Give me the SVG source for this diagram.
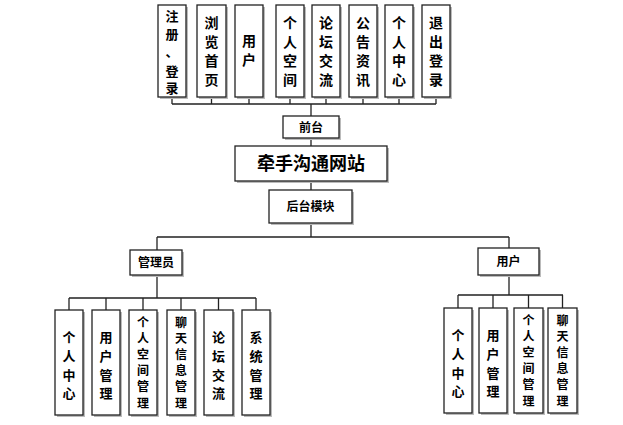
<svg xmlns="http://www.w3.org/2000/svg" width="623" height="425" viewBox="0 0 623 425">
<defs><style>
.b{fill:#fff;stroke:#222;stroke-width:1.3}
.s{fill:#bbb}
.t{font-family:"Noto Sans CJK SC","Liberation Sans",sans-serif;font-weight:bold;fill:#000;text-anchor:middle}
.l{stroke:#222;stroke-width:1.3;fill:none}
.sm{font-size:12px}
</style></defs>
<rect width="623" height="425" fill="#fff"/>
<g id="connectors">
<path class="l" d="M172 97V104M211.5 97V104M249 97V104M290 97V104M326 97V104M363 97V104M399 97V104M436 97V104M172 104H436M311 104V116M311 138V146M311 181V190M311 223V237M157 237H509M157 237V250M509 237V250"/>
<path class="l" d="M157 274V298M69 298H256M69 298V310M106 298V310M143 298V310M181 298V310M218.5 298V310M256 298V310"/>
<path class="l" d="M509 275V295M458 295H563M458 295V308M493 295V308M528.5 295V308M562.5 295V308"/>
</g>
<g class="t" font-size="14">
<g id="n1" font-size="13"><rect class="s" x="160" y="7" width="28" height="92"/><rect class="b" x="158" y="5" width="28" height="92"/><text x="172" y="21">注</text><text x="172" y="39">册</text><text x="172" y="56">、</text><text x="172" y="76">登</text><text x="172" y="93">录</text></g>
<g id="n2"><rect class="s" x="199" y="7" width="29" height="92"/><rect class="b" x="197" y="5" width="29" height="92"/><text x="211.5" y="28">浏</text><text x="211.5" y="47">览</text><text x="211.5" y="66">首</text><text x="211.5" y="85">页</text></g>
<g id="n3"><rect class="s" x="237" y="7" width="28" height="92"/><rect class="b" x="235" y="5" width="28" height="92"/><text x="249" y="46">用</text><text x="249" y="65">户</text></g>
<g id="n4"><rect class="s" x="278" y="7" width="28" height="92"/><rect class="b" x="276" y="5" width="28" height="92"/><text x="290" y="28">个</text><text x="290" y="47">人</text><text x="290" y="66">空</text><text x="290" y="85">间</text></g>
<g id="n5"><rect class="s" x="314" y="7" width="28" height="92"/><rect class="b" x="312" y="5" width="28" height="92"/><text x="326" y="28">论</text><text x="326" y="47">坛</text><text x="326" y="66">交</text><text x="326" y="85">流</text></g>
<g id="n6"><rect class="s" x="351" y="7" width="28" height="92"/><rect class="b" x="349" y="5" width="28" height="92"/><text x="363" y="28">公</text><text x="363" y="47">告</text><text x="363" y="66">资</text><text x="363" y="85">讯</text></g>
<g id="n7"><rect class="s" x="387" y="7" width="28" height="92"/><rect class="b" x="385" y="5" width="28" height="92"/><text x="399" y="28">个</text><text x="399" y="47">人</text><text x="399" y="66">中</text><text x="399" y="85">心</text></g>
<g id="n8"><rect class="s" x="424" y="7" width="28" height="92"/><rect class="b" x="422" y="5" width="28" height="92"/><text x="436" y="28">退</text><text x="436" y="47">出</text><text x="436" y="66">登</text><text x="436" y="85">录</text></g>
</g>
<g id="qiantai"><rect class="s" x="285" y="118" width="56" height="22"/><rect class="b" x="283" y="116" width="56" height="22"/><text class="t" x="311" y="132" font-size="12">前台</text></g>
<g id="main"><rect class="s" x="237" y="148" width="152" height="35"/><rect class="b" x="235" y="146" width="152" height="35"/><text class="t" x="311" y="170" font-size="18">牵手沟通网站</text></g>
<g id="houtai"><rect class="s" x="271" y="192" width="83" height="33"/><rect class="b" x="269" y="190" width="83" height="33"/><text class="t" x="310.5" y="211" font-size="12">后台模块</text></g>
<g id="admin"><rect class="s" x="132" y="252" width="52" height="25"/><rect class="b" x="130" y="250" width="52" height="25"/><text class="t" x="156" y="267" font-size="12">管理员</text></g>
<g id="user"><rect class="s" x="480" y="250" width="61" height="27"/><rect class="b" x="478" y="248" width="61" height="27"/><text class="t" x="508.5" y="266" font-size="12">用户</text></g>
<g class="t" font-size="13">
<g id="a1"><rect class="s" x="57" y="312" width="28" height="105"/><rect class="b" x="55" y="310" width="28" height="105"/><text x="69" y="342">个</text><text x="69" y="361">人</text><text x="69" y="380">中</text><text x="69" y="398">心</text></g>
<g id="a2"><rect class="s" x="94" y="312" width="28" height="105"/><rect class="b" x="92" y="310" width="28" height="105"/><text x="106" y="342">用</text><text x="106" y="361">户</text><text x="106" y="380">管</text><text x="106" y="398">理</text></g>
<g id="a3" class="sm"><rect class="s" x="131" y="312" width="28" height="105"/><rect class="b" x="129" y="310" width="28" height="105"/><text x="143" y="327">个</text><text x="143" y="343">人</text><text x="143" y="359">空</text><text x="143" y="375">间</text><text x="143" y="391">管</text><text x="143" y="408">理</text></g>
<g id="a4" class="sm"><rect class="s" x="169" y="312" width="28" height="105"/><rect class="b" x="167" y="310" width="28" height="105"/><text x="181" y="327">聊</text><text x="181" y="343">天</text><text x="181" y="359">信</text><text x="181" y="375">息</text><text x="181" y="391">管</text><text x="181" y="408">理</text></g>
<g id="a5"><rect class="s" x="206" y="312" width="29" height="105"/><rect class="b" x="204" y="310" width="29" height="105"/><text x="218.5" y="342">论</text><text x="218.5" y="361">坛</text><text x="218.5" y="380">交</text><text x="218.5" y="398">流</text></g>
<g id="a6"><rect class="s" x="244" y="312" width="28" height="105"/><rect class="b" x="242" y="310" width="28" height="105"/><text x="256" y="342">系</text><text x="256" y="361">统</text><text x="256" y="380">管</text><text x="256" y="398">理</text></g>
<g id="u1"><rect class="s" x="446" y="310" width="28" height="105"/><rect class="b" x="444" y="308" width="28" height="105"/><text x="458" y="340">个</text><text x="458" y="359">人</text><text x="458" y="378">中</text><text x="458" y="396">心</text></g>
<g id="u2"><rect class="s" x="481" y="310" width="28" height="105"/><rect class="b" x="479" y="308" width="28" height="105"/><text x="493" y="340">用</text><text x="493" y="359">户</text><text x="493" y="378">管</text><text x="493" y="396">理</text></g>
<g id="u3" class="sm"><rect class="s" x="516" y="310" width="29" height="105"/><rect class="b" x="514" y="308" width="29" height="105"/><text x="528.5" y="325">个</text><text x="528.5" y="341">人</text><text x="528.5" y="357">空</text><text x="528.5" y="373">间</text><text x="528.5" y="389">管</text><text x="528.5" y="406">理</text></g>
<g id="u4" class="sm"><rect class="s" x="550" y="310" width="29" height="105"/><rect class="b" x="548" y="308" width="29" height="105"/><text x="562.5" y="325">聊</text><text x="562.5" y="341">天</text><text x="562.5" y="357">信</text><text x="562.5" y="373">息</text><text x="562.5" y="389">管</text><text x="562.5" y="406">理</text></g>
</g>
</svg>
